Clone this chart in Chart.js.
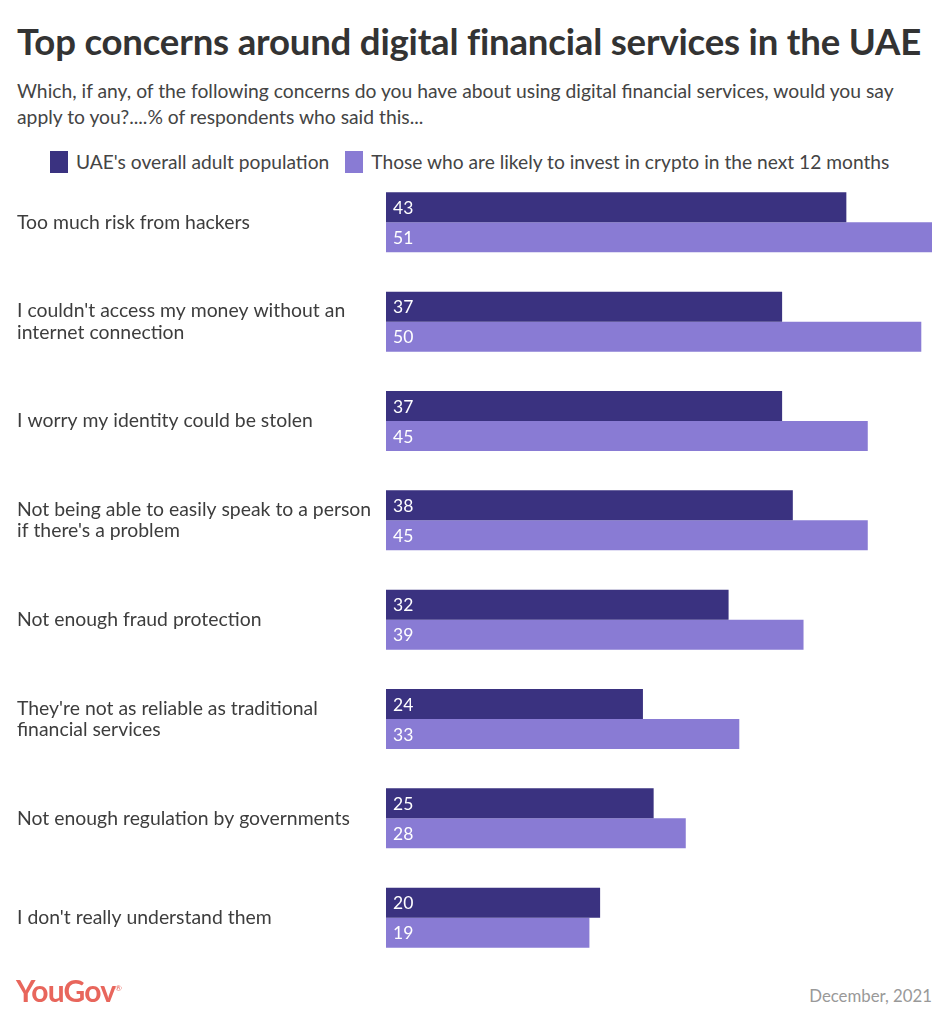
<!DOCTYPE html>
<html><head><meta charset="utf-8">
<script src="https://cdn.jsdelivr.net/npm/chart.js@4"></script>
<style>
html,body{margin:0;padding:0;background:#fff;width:949px;height:1024px;overflow:hidden;font-family:Lato,"Open Sans",sans-serif;color:#333}
#title{position:absolute;left:17px;top:19px;font-size:36.6px;font-weight:700;color:#333;white-space:nowrap;letter-spacing:-0.2px}
#sub{position:absolute;left:17px;top:78px;width:910px;font-size:19.3px;line-height:26px;color:#444}
#legend{position:absolute;left:50px;top:150px;font-size:19.2px;color:#444;white-space:nowrap}
#legend span.sw{display:inline-block;width:18px;height:22px;vertical-align:-4px;margin-right:8px}
#legend span.it{margin-right:16px}
#wrap{position:absolute;left:0;top:162px;width:949px;height:816px}
#logo{position:absolute;left:16px;top:972px;font-size:30px;font-weight:700;color:#e8665c;letter-spacing:-0.8px}
#date{position:absolute;right:17px;top:985px;font-size:16.8px;color:#999}
</style></head>
<body>
<div id="title">Top concerns around digital financial services in the UAE</div>
<div id="sub">Which, if any, of the following concerns do you have about using digital financial services, would you say apply to you?....% of respondents who said this...</div>
<div id="legend"></div>
<div id="wrap"><canvas id="c"></canvas></div>
<div id="logo">YouGov<sup style="font-size:8px;font-weight:400">®</sup></div>
<div id="date">December, 2021</div>
<script>
const categories = [
  "Too much risk from hackers",
  ["I couldn't access my money without an", "internet connection"],
  "I worry my identity could be stolen",
  ["Not being able to easily speak to a person", "if there's a problem"],
  "Not enough fraud protection",
  ["They're not as reliable as traditional", "financial services"],
  "Not enough regulation by governments",
  "I don't really understand them"
];
const seriesNames = ["UAE's overall adult population", "Those who are likely to invest in crypto in the next 12 months"];
const overallValues = [43, 37, 37, 38, 32, 24, 25, 20];
const cryptoValues  = [51, 50, 45, 45, 39, 33, 28, 19];
const colors = ["#3a3280", "#897bd4"];

const lg = document.getElementById('legend');
seriesNames.forEach((n,i)=>{
  lg.insertAdjacentHTML('beforeend', `<span class="sw" style="background:${colors[i]}"></span><span class="it">${n}</span>`);
});

const valueLabels = {
  id: 'valueLabels',
  afterDatasetsDraw(chart) {
    const ctx = chart.ctx;
    ctx.save();
    ctx.fillStyle = '#fff';
    ctx.font = '17.5px Lato, sans-serif';
    ctx.textAlign = 'left';
    ctx.textBaseline = 'middle';
    chart.data.datasets.forEach((ds, di) => {
      chart.getDatasetMeta(di).data.forEach((bar, i) => {
        ctx.fillText(String(ds.data[i]), bar.base + 7, bar.y + 1);
      });
    });
    ctx.restore();
  }
};

new Chart(document.getElementById('c'), {
  type: 'bar',
  data: {
    labels: categories,
    datasets: [
      { label: seriesNames[0], data: overallValues, backgroundColor: colors[0] },
      { label: seriesNames[1], data: cryptoValues, backgroundColor: colors[1] }
    ]
  },
  options: {
    indexAxis: 'y',
    responsive: true,
    maintainAspectRatio: false,
    animation: false,
    categoryPercentage: 0.604,
    barPercentage: 1.0,
    layout: { padding: { left: 17, right: 17, top: 0, bottom: 0 } },
    plugins: { legend: { display: false }, tooltip: { enabled: false } },
    scales: {
      x: { display: false, min: 0, max: 51 },
      y: {
        grid: { display: false },
        border: { display: false },
        ticks: {
          crossAlign: 'far',
          color: '#3d3d3d',
          font: { family: 'Lato, sans-serif', size: 19.4, lineHeight: 1.1 },
          padding: 0
        },
        afterFit(scale) { scale.width = 369; }
      }
    }
  },
  plugins: [valueLabels]
});
</script>
</body></html>
